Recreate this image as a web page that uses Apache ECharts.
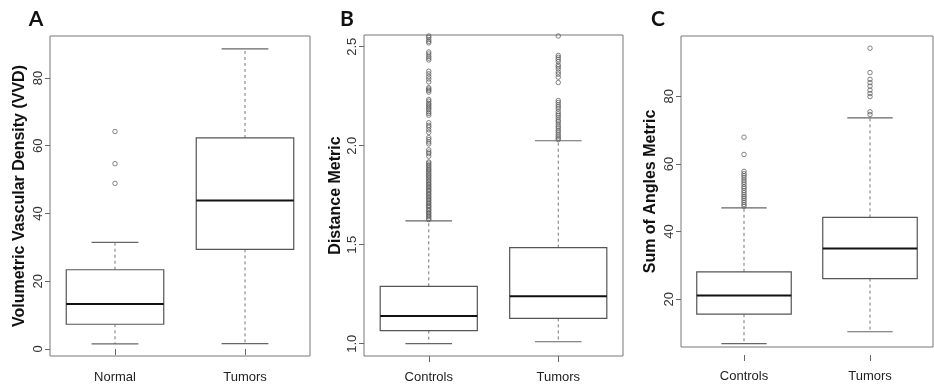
<!DOCTYPE html>
<html>
<head>
<meta charset="utf-8">
<script src="https://cdn.jsdelivr.net/npm/echarts@6/dist/echarts.min.js"></script>
<style>
html,body{margin:0;padding:0;background:#fff;}
#chart{width:934px;height:390px;}
</style>
</head>
<body>
<div id="chart"></div>
<script>
// ---- Panel A ----
const catsA = ['Normal', 'Tumors'];
// [lower whisker, Q1, median, Q3, upper whisker]
const statsNormalA = [1.5, 7.3, 13.3, 23.4, 31.5];
const statsTumorsA = [1.6, 29.4, 43.8, 62.3, 88.6];
const outNormalA = [64.2, 54.7, 48.9];
const outTumorsA = [];
const ticksA = [0, 20, 40, 60, 80];

// ---- Panel B ----
const catsB = ['Controls', 'Tumors'];
const statsControlsB = [1.0, 1.066, 1.14, 1.29, 1.62];
const statsTumorsB = [1.01, 1.128, 1.24, 1.485, 2.025];
const outControlsB = [2.554, 2.547, 2.536, 2.527, 2.519,
  2.473, 2.463, 2.451, 2.442, 2.433,
  2.376, 2.363, 2.349, 2.337, 2.322,
  2.293, 2.286, 2.279, 2.271,
  2.233, 2.225, 2.214, 2.207, 2.198, 2.19, 2.182, 2.171, 2.163, 2.154,
  2.116, 2.103, 2.094, 2.08, 2.067,
  2.041, 2.031, 2.019, 2.009,
  1.979, 1.968, 1.96, 1.947,
  1.918, 1.912, 1.903, 1.898, 1.889, 1.881, 1.876, 1.867, 1.861, 1.852, 1.847, 1.838,
  1.832, 1.823, 1.817, 1.808, 1.803, 1.794, 1.788, 1.779, 1.773, 1.766, 1.757, 1.752,
  1.743, 1.737, 1.728, 1.722, 1.713, 1.708, 1.699, 1.694, 1.686, 1.677, 1.672, 1.662,
  1.657, 1.648, 1.642, 1.633, 1.627];
const outTumorsB = [2.554, 2.456, 2.446, 2.436, 2.425, 2.408, 2.399, 2.388, 2.372, 2.361, 2.346, 2.319,
  2.228, 2.218, 2.206, 2.196, 2.186, 2.172, 2.161, 2.152, 2.141, 2.129, 2.121, 2.109,
  2.098, 2.089, 2.078, 2.069, 2.058, 2.048, 2.039, 2.031];
const ticksB = [1.0, 1.5, 2.0, 2.5];

// ---- Panel C ----
const catsC = ['Controls', 'Tumors'];
const statsControlsC = [6.9, 15.6, 21.1, 28.1, 47.0];
const statsTumorsC = [10.4, 26.1, 35.0, 44.2, 73.6];
const outControlsC = [67.9, 62.8, 57.8, 57.1, 56.5, 55.9, 55.2, 54.6, 54.0, 53.3, 52.8, 52.1,
  51.5, 50.9, 50.3, 49.8, 49.2, 48.6, 48.0, 47.5];
const outTumorsC = [94.2, 87.0, 85.0, 84.0, 83.0, 81.8, 80.8, 79.9, 75.4, 74.6];
const ticksC = [20, 40, 60, 80];

const FONT = '"Liberation Sans", Arial, sans-serif';
const chart = echarts.init(document.getElementById('chart'), null, {renderer: 'canvas'});

function renderBox(params, api) {
  const idx = api.value(0);
  const band = api.size([1, 0])[0];
  const bw = band * 0.75;
  const cw = bw * 0.48;
  const lo = api.coord([idx, api.value(1)]);
  const q1 = api.coord([idx, api.value(2)]);
  const md = api.coord([idx, api.value(3)]);
  const q3 = api.coord([idx, api.value(4)]);
  const hi = api.coord([idx, api.value(5)]);
  const cx = md[0];
  const boxStroke = '#555';
  return {
    type: 'group',
    children: [
      {type: 'line', shape: {x1: cx, y1: q3[1], x2: cx, y2: hi[1]},
       style: {stroke: '#777', lineWidth: 1, lineDash: [3, 3]}},
      {type: 'line', shape: {x1: cx, y1: q1[1], x2: cx, y2: lo[1]},
       style: {stroke: '#777', lineWidth: 1, lineDash: [3, 3]}},
      {type: 'line', shape: {x1: cx - cw / 2, y1: hi[1], x2: cx + cw / 2, y2: hi[1]},
       style: {stroke: '#666', lineWidth: 1.2}},
      {type: 'line', shape: {x1: cx - cw / 2, y1: lo[1], x2: cx + cw / 2, y2: lo[1]},
       style: {stroke: '#666', lineWidth: 1.2}},
      {type: 'rect', shape: {x: cx - bw / 2, y: q3[1], width: bw, height: q1[1] - q3[1]},
       style: {fill: '#fff', stroke: boxStroke, lineWidth: 1.2}},
      {type: 'line', shape: {x1: cx - bw / 2, y1: md[1], x2: cx + bw / 2, y2: md[1]},
       style: {stroke: '#111', lineWidth: 2}}
    ]
  };
}

function boxData(stats) {
  return stats.map((s, i) => [i].concat(s));
}
function outData(cats, lists) {
  const d = [];
  lists.forEach((lst, i) => lst.forEach(v => d.push([cats[i], v])));
  return d;
}

const panels = [
  {left: 50, top: 36, width: 260, height: 320, min: -2.07, max: 92.4, ticks: ticksA, cats: catsA,
   stats: [statsNormalA, statsTumorsA], outs: [outNormalA, outTumorsA],
   name: 'Volumetric Vascular Density (VVD)', nameGap: 22, fmt: v => String(v), xoff: 0},
  {left: 364, top: 35, width: 259, height: 321, min: 0.938, max: 2.559, ticks: ticksB, cats: catsB,
   stats: [statsControlsB, statsTumorsB], outs: [outControlsB, outTumorsB],
   name: 'Distance Metric', nameGap: 20, fmt: v => v.toFixed(1), xoff: 0},
  {left: 681, top: 36, width: 252, height: 311, min: 5.9, max: 97.8, ticks: ticksC, cats: catsC,
   stats: [statsControlsC, statsTumorsC], outs: [outControlsC, outTumorsC],
   name: 'Sum of Angles Metric', nameGap: 22, fmt: v => String(v), xoff: 8}
];

const grid = [], xAxis = [], yAxis = [], series = [];
panels.forEach((p, i) => {
  grid.push({left: p.left, top: p.top, width: p.width, height: p.height, show: true,
    borderColor: '#777', borderWidth: 1, backgroundColor: 'transparent', containLabel: false});
  xAxis.push({type: 'category', gridIndex: i, data: p.cats, boundaryGap: true, offset: p.xoff,
    axisLine: {show: false},
    axisTick: {show: true, alignWithLabel: true, length: 6, lineStyle: {color: '#666'}},
    axisLabel: {fontFamily: FONT, fontSize: 13, color: '#222', margin: 15},
    splitLine: {show: false}});
  yAxis.push({type: 'value', gridIndex: i, min: p.min, max: p.max,
    axisLine: {show: false},
    axisTick: {show: true, length: 5, lineStyle: {color: '#666'}, customValues: p.ticks},
    axisLabel: {fontFamily: FONT, fontSize: 13, color: '#333', rotate: 90, margin: 5,
      customValues: p.ticks, formatter: p.fmt},
    splitLine: {show: false},
    name: p.name, nameLocation: 'middle', nameGap: p.nameGap,
    nameTextStyle: {fontFamily: FONT, fontWeight: 'bold', fontSize: 16, color: '#111'}});
  series.push({type: 'custom', xAxisIndex: i, yAxisIndex: i, renderItem: renderBox,
    data: boxData(p.stats), encode: {x: 0, y: [1, 2, 3, 4, 5]}, silent: true, z: 2});
  series.push({type: 'scatter', xAxisIndex: i, yAxisIndex: i, data: outData(p.cats, p.outs),
    symbol: 'circle', symbolSize: 4.5, silent: true, z: 3,
    itemStyle: {color: 'rgba(255,255,255,0)', borderColor: '#555', borderWidth: 0.9}});
});

chart.setOption({
  animation: false,
  backgroundColor: '#fff',
  grid, xAxis, yAxis, series,
  graphic: [
    {type: 'text', x: 36, y: 19, style: {text: 'A', align: 'center', verticalAlign: 'middle',
      font: 'bold 21px Lato', fill: '#111'}},
    {type: 'text', x: 347, y: 19, style: {text: 'B', align: 'center', verticalAlign: 'middle',
      font: 'bold 21px Lato', fill: '#111'}},
    {type: 'text', x: 658, y: 19, style: {text: 'C', align: 'center', verticalAlign: 'middle',
      font: 'bold 21px Lato', fill: '#111'}}
  ]
});
</script>
</body>
</html>
